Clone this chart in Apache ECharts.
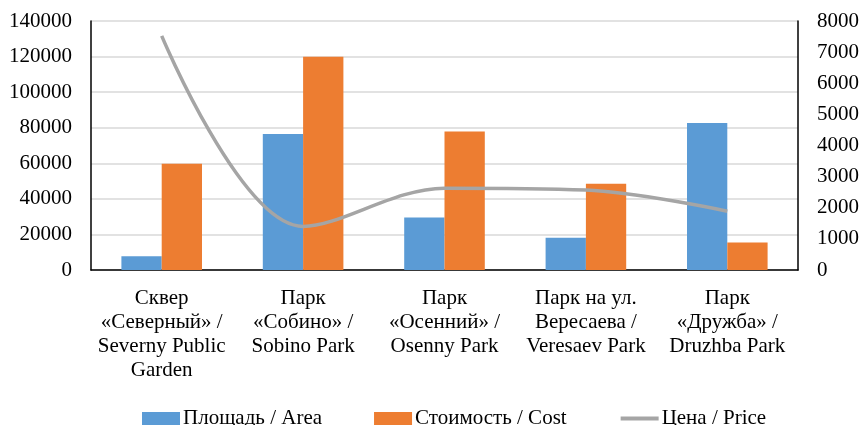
<!DOCTYPE html>
<html>
<head>
<meta charset="utf-8">
<script src="https://cdn.jsdelivr.net/npm/echarts@6/dist/echarts.min.js"></script>
<style>html,body{margin:0;padding:0;background:#fff}#c{width:862px;height:425px}</style>
</head>
<body>
<div id="c"></div>
<script>
const categories = [
  "Сквер\n«Северный» /\nSeverny Public\nGarden",
  "Парк\n«Собино» /\nSobino Park",
  "Парк\n«Осенний» /\nOsenny Park",
  "Парк на ул.\nВересаева /\nVeresaev Park",
  "Парк\n«Дружба» /\nDruzhba Park"
];
const seriesNames = ["Площадь / Area", "Стоимость / Cost", "Цена / Price"];
const areaValues = [7700, 76500, 29500, 18200, 82700];
const costValues = [59800, 119900, 77900, 48500, 15500];
const priceValues = [7520, 1400, 2630, 2570, 1890];

const font = "'Liberation Serif', 'Times New Roman', serif";
const plain = v => String(v);
const chart = echarts.init(document.getElementById('c'));
chart.setOption({
  animation: false,
  textStyle: { fontFamily: font },
  grid: { left: 91, right: 63, top: 21, bottom: 155 },
  legend: {
    left: 137, top: 403,
    itemWidth: 38, itemHeight: 13, itemGap: 52,
    textStyle: { fontFamily: font, fontSize: 21, color: '#000', padding: [0, 0, 0, -2] },
    data: [
      { name: seriesNames[0], icon: 'rect' },
      { name: seriesNames[1], icon: 'rect' },
      { name: seriesNames[2], itemStyle: { opacity: 0 }, lineStyle: { color: '#A5A5A5', width: 4 } }
    ]
  },
  xAxis: {
    type: 'category',
    data: categories,
    axisLine: { lineStyle: { color: '#000', width: 1.5 } },
    axisTick: { show: false },
    axisLabel: { interval: 0, margin: 16, fontFamily: font, fontSize: 21, lineHeight: 24, color: '#000' }
  },
  yAxis: [
    {
      type: 'value', min: 0, max: 140000, interval: 20000,
      axisLine: { show: true, lineStyle: { color: '#000', width: 1.5 } },
      axisTick: { show: false },
      splitLine: { lineStyle: { color: '#D9D9D9', width: 1.5 } },
      axisLabel: { margin: 19, fontFamily: font, fontSize: 21, color: '#000', formatter: plain }
    },
    {
      type: 'value', min: 0, max: 8000, interval: 1000,
      axisLine: { show: true, lineStyle: { color: '#000', width: 1.5 } },
      axisTick: { show: false },
      splitLine: { show: false },
      axisLabel: { margin: 19, fontFamily: font, fontSize: 21, color: '#000', formatter: plain }
    }
  ],
  series: [
    { name: seriesNames[0], type: 'bar', data: areaValues, itemStyle: { color: '#5B9BD5' }, barGap: '0%', barCategoryGap: '43%' },
    { name: seriesNames[1], type: 'bar', data: costValues, itemStyle: { color: '#ED7D31' } },
    { name: seriesNames[2], type: 'line', yAxisIndex: 1, data: priceValues, smooth: 0.35, symbol: 'none',
      lineStyle: { color: '#A5A5A5', width: 3.5 }, itemStyle: { color: '#A5A5A5' } }
  ]
});
</script>
</body>
</html>
